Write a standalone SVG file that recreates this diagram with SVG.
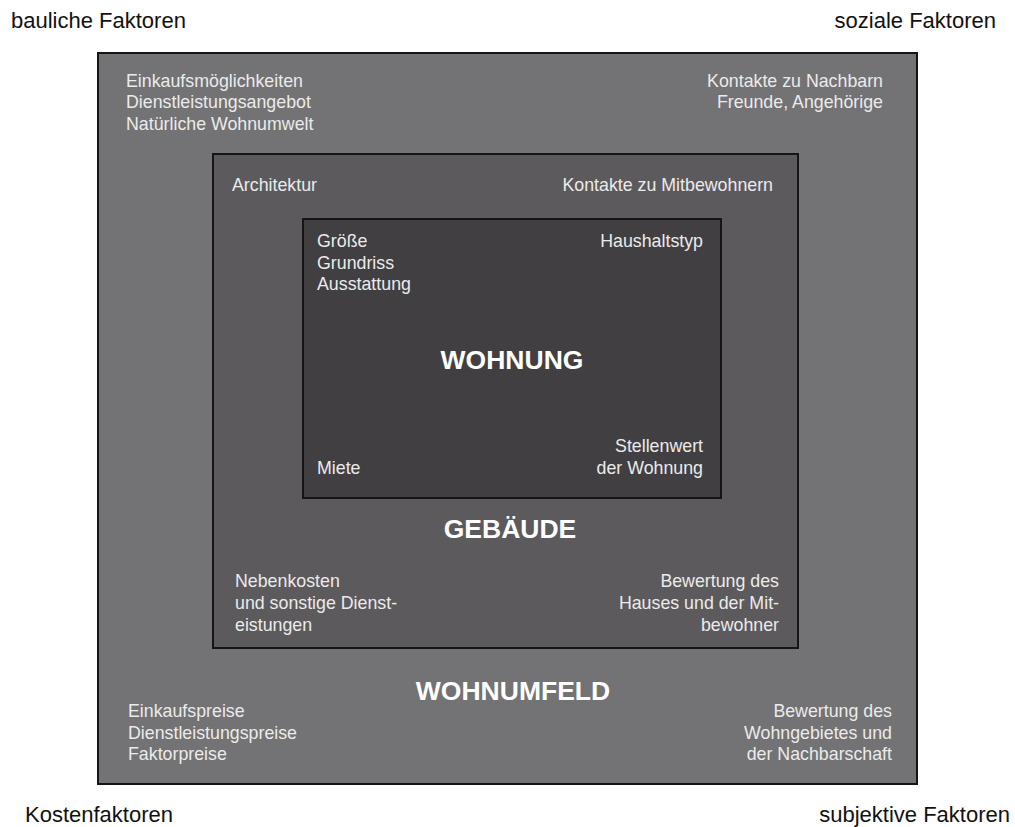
<svg xmlns="http://www.w3.org/2000/svg" width="1015" height="827" viewBox="0 0 1015 827">
<style>
.box{stroke:#151515;stroke-width:2}
.t{font-family:"Liberation Sans",Arial,sans-serif;font-size:17.8px;fill:#ebebeb}
.r{text-anchor:end}
.h{font-family:"Liberation Sans",Arial,sans-serif;font-size:26.5px;font-weight:bold;fill:#ffffff;text-anchor:middle}
.c{font-family:"Liberation Sans",Arial,sans-serif;font-size:22px;fill:#111111}
</style>
<rect width="1015" height="827" fill="#ffffff"/>
<g id="corners">
<text class="c" x="11" y="28">bauliche Faktoren</text>
<text class="c r" x="996" y="28">soziale Faktoren</text>
<text class="c" x="25" y="822">Kostenfaktoren</text>
<text class="c r" x="1010" y="822">subjektive Faktoren</text>
</g>
<g id="wohnumfeld">
<rect class="box" x="98" y="53" width="819" height="731" fill="#737274"/>
<text class="t"><tspan x="126" y="87">Einkaufsmöglichkeiten</tspan><tspan x="126" y="108">Dienstleistungsangebot</tspan><tspan x="126" y="130">Natürliche Wohnumwelt</tspan></text>
<text class="t r"><tspan x="883" y="87">Kontakte zu Nachbarn</tspan><tspan x="883" y="108">Freunde, Angehörige</tspan></text>
<text class="t"><tspan x="128" y="717">Einkaufspreise</tspan><tspan x="128" y="739">Dienstleistungspreise</tspan><tspan x="128" y="760">Faktorpreise</tspan></text>
<text class="t r"><tspan x="892" y="717">Bewertung des</tspan><tspan x="892" y="739">Wohngebietes und</tspan><tspan x="892" y="760">der Nachbarschaft</tspan></text>
<text class="h" x="513" y="700">WOHNUMFELD</text>
</g>
<g id="gebaeude">
<rect class="box" x="213" y="154" width="585" height="494" fill="#5c5a5c"/>
<text class="t" x="232" y="191">Architektur</text>
<text class="t r" x="773" y="191">Kontakte zu Mitbewohnern</text>
<text class="h" x="510" y="538">GEBÄUDE</text>
<text class="t"><tspan x="235" y="587">Nebenkosten</tspan><tspan x="235" y="609">und sonstige Dienst-</tspan><tspan x="235" y="631">eistungen</tspan></text>
<text class="t r"><tspan x="779" y="587">Bewertung des</tspan><tspan x="779" y="609">Hauses und der Mit-</tspan><tspan x="779" y="631">bewohner</tspan></text>
</g>
<g id="wohnung">
<rect class="box" x="303" y="219" width="418" height="279" fill="#413f41"/>
<text class="t"><tspan x="317" y="247">Größe</tspan><tspan x="317" y="269">Grundriss</tspan><tspan x="317" y="290">Ausstattung</tspan></text>
<text class="t r" x="703" y="247">Haushaltstyp</text>
<text class="h" x="512" y="369">WOHNUNG</text>
<text class="t" x="317" y="474">Miete</text>
<text class="t r"><tspan x="703" y="452">Stellenwert</tspan><tspan x="703" y="474">der Wohnung</tspan></text>
</g>
<g id="connectors"/>
</svg>
